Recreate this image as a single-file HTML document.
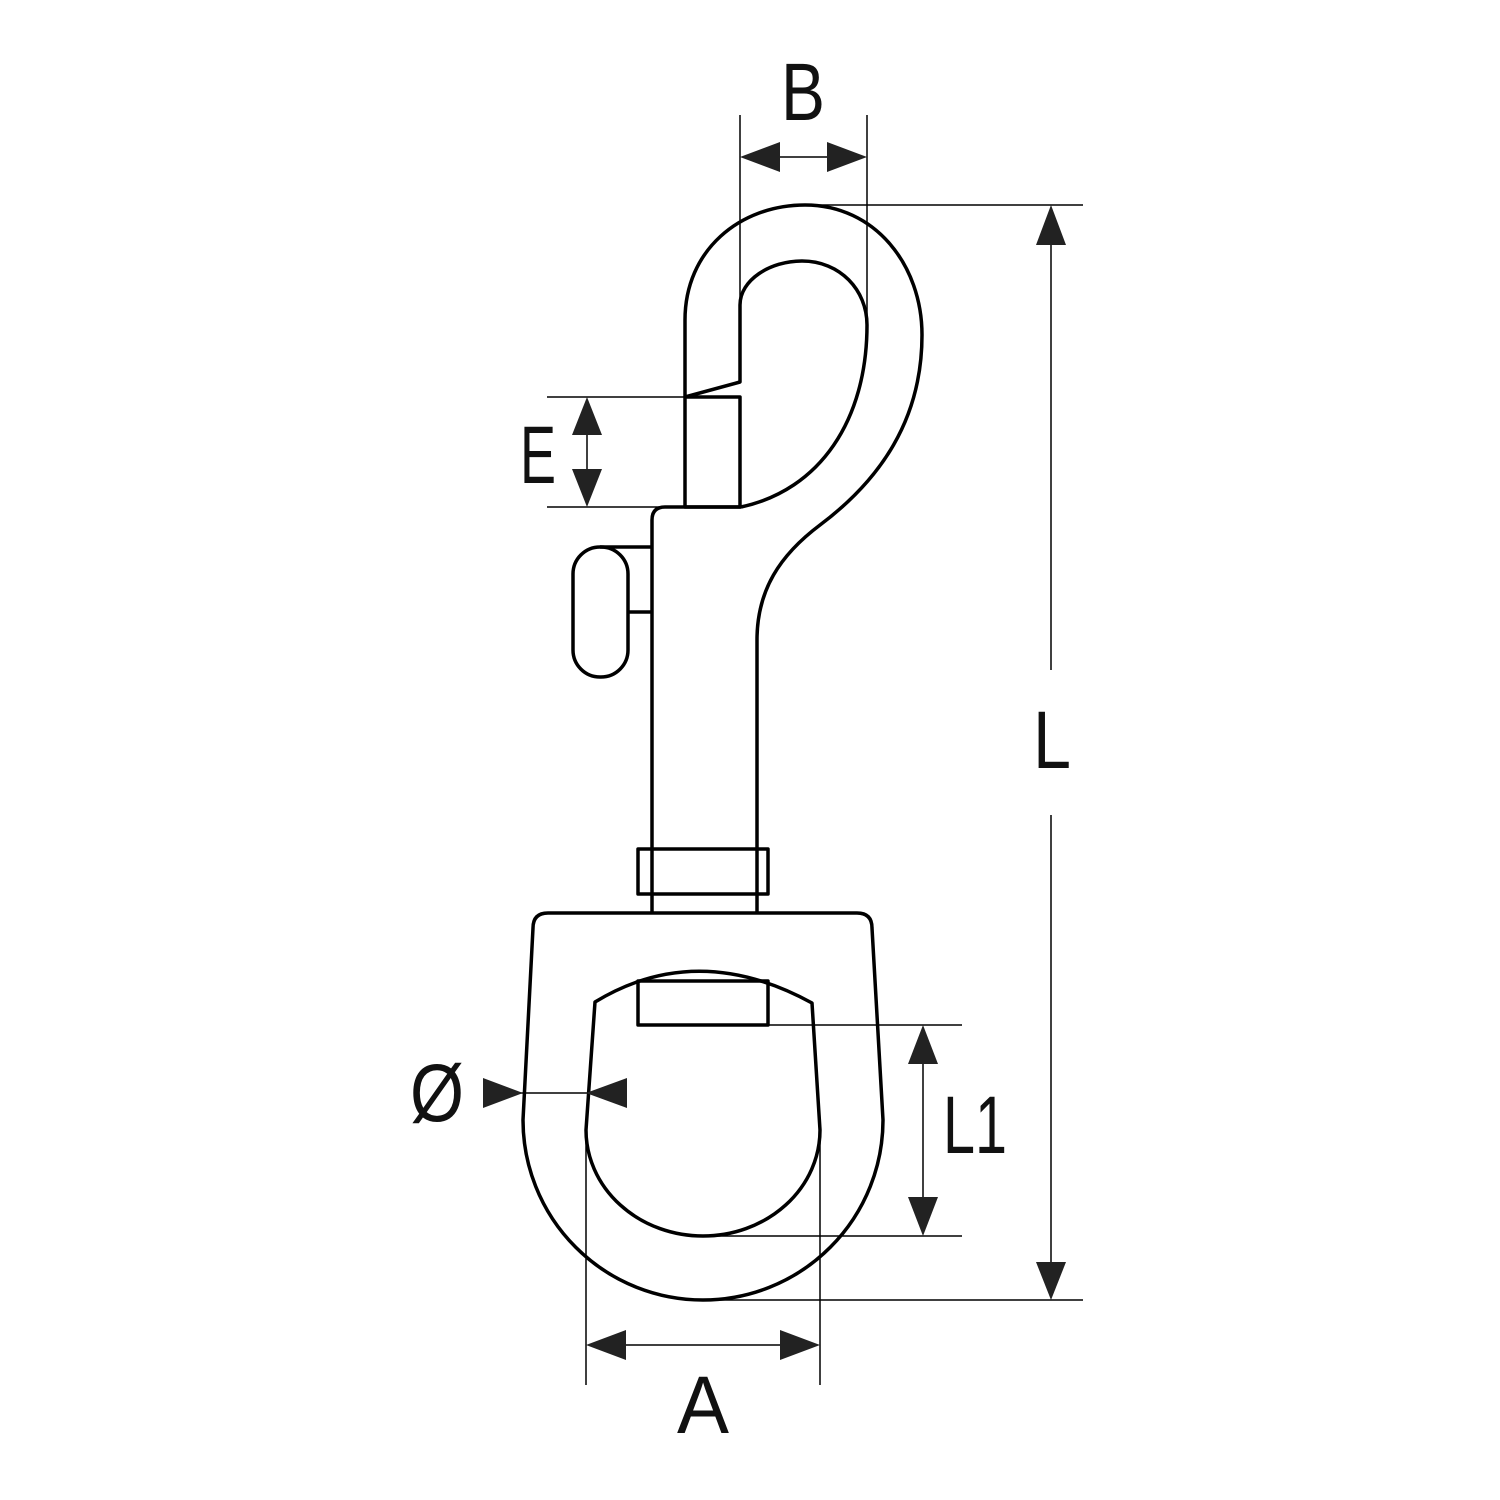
<!DOCTYPE html>
<html><head><style>html,body{margin:0;padding:0;background:#fff}svg{display:block}</style></head>
<body>
<svg width="1500" height="1500" viewBox="0 0 1500 1500" xmlns="http://www.w3.org/2000/svg">
<g fill="none" stroke="#000" stroke-width="3.5" stroke-linejoin="round">
<path d="M685 397 L685 320 C685 250 740 205 805 205 C875 205 922 265 922 335 C922 420 880 480 820 525 C780 555 757 590 757 640 L757 913"/>
<path d="M685 397 L740 382 L740 305 C740 280 770 261 802 261 C840 261 867 290 867 325 C867 420 820 490 741 507"/>
<rect x="685" y="397" width="55" height="110"/>
<path d="M741 507 L665 507 Q652 507 652 520 L652 913"/>
<rect x="573" y="547" width="55" height="130" rx="27"/>
<path d="M600 547 L652 547 M628 612 L652 612"/>
<rect x="638" y="849" width="130" height="45"/>
<path d="M548 913 L857 913 Q872 913 872 928 L883 1120 A180 180 0 0 1 523 1120 L533 928 Q533 913 548 913 Z"/>
<path d="M595 1002 Q697 940 812 1003 L820 1130 A117 106 0 0 1 586 1130 Z"/>
<rect x="638" y="981" width="130" height="44"/>
</g>
<g stroke="#000" stroke-width="1.5" fill="none">
<path d="M740 115 V300 M867 115 V320 M745 157 H862"/>
<path d="M810 205 H1083 M715 1300 H1083 M1051 245 V670 M1051 815 V1262"/>
<path d="M547 397 H685 M547 507 H741 M587 400 V504"/>
<path d="M768 1025 H962 M703 1236 H962 M923 1030 V1232"/>
<path d="M586 1130 V1385 M820 1130 V1385 M590 1345 H816"/>
<path d="M483 1093 H627"/>
</g>
<g fill="#222">
<polygon points="740,157 780,142 780,172"/>
<polygon points="867,157 827,142 827,172"/>
<polygon points="1051,205 1036,245 1066,245"/>
<polygon points="1051,1300 1036,1262 1066,1262"/>
<polygon points="587,397 572,435 602,435"/>
<polygon points="587,507 572,469 602,469"/>
<polygon points="923,1025 908,1064 938,1064"/>
<polygon points="923,1236 908,1197 938,1197"/>
<polygon points="586,1345 626,1330 626,1360"/>
<polygon points="820,1345 780,1330 780,1360"/>
<polygon points="523,1093 483,1078 483,1108"/>
<polygon points="586,1093 627,1078 627,1108"/>
</g>
<g font-family="Liberation Sans, sans-serif" font-size="82" fill="#111" text-anchor="middle">
<text x="803" y="120" textLength="44" lengthAdjust="spacingAndGlyphs">B</text>
<text x="538" y="483" textLength="36" lengthAdjust="spacingAndGlyphs">E</text>
<text x="1052" y="768" textLength="38" lengthAdjust="spacingAndGlyphs">L</text>
<text x="975" y="1153" textLength="64" lengthAdjust="spacingAndGlyphs">L1</text>
<text x="703" y="1433" textLength="52" lengthAdjust="spacingAndGlyphs">A</text>
<text x="437" y="1121" textLength="54" lengthAdjust="spacingAndGlyphs">Ø</text>
</g>
</svg>
</body></html>
